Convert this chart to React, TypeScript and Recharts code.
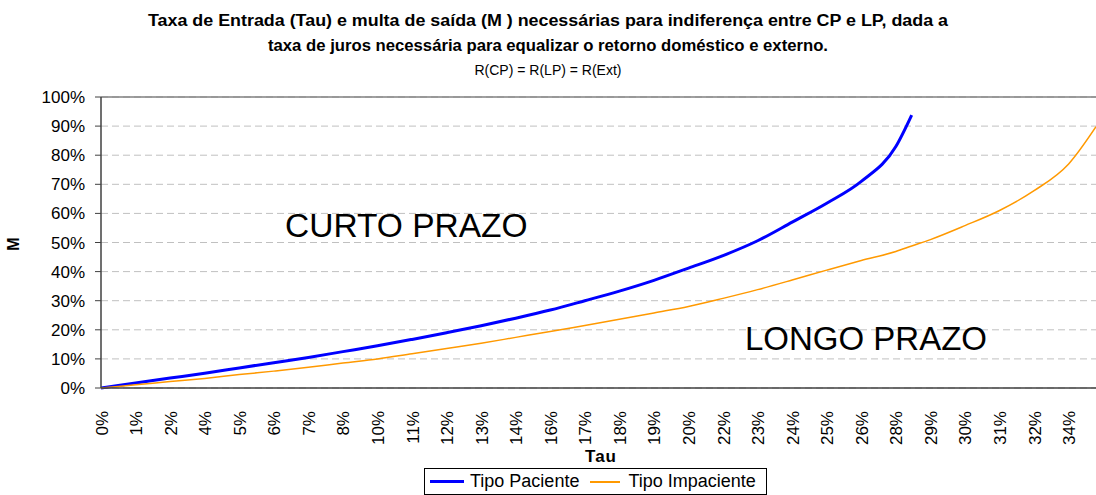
import React from "react";
import {
  LineChart,
  Line,
  XAxis,
  YAxis,
  CartesianGrid,
  ReferenceLine,
} from "recharts";

// Tau (%) on the x axis, M (%) on the y axis
const tau = [
  0, 1.2, 2.4, 3.6, 4.8, 6.0, 7.2, 8.4, 9.6, 10.8, 12.0, 13.2, 14.4, 15.6,
  16.8, 18.0, 19.2, 20.4, 21.6, 22.8, 24.0, 25.2, 26.4, 27.6, 28.15, 28.8,
  30.0, 31.2, 32.4, 33.6, 34.55,
];

const tipoPaciente = [
  0, 1.7, 3.4, 5.1, 6.9, 8.7, 10.5, 12.5, 14.5, 16.7, 19.0, 21.4, 24.0, 26.8,
  30.0, 33.3, 37.0, 41.2, 45.5, 50.6, 57.0, 63.5, 71.0, 83.0, 93.8, null,
  null, null, null, null, null,
];

const tipoImpaciente = [
  0, 1.1, 2.2, 3.3, 4.6, 5.8, 7.1, 8.6, 10.0, 11.8, 13.6, 15.4, 17.4, 19.4,
  21.5, 23.6, 25.8, 28.0, 30.8, 33.8, 37.1, 40.5, 43.8, 46.9, 48.8, 51.0,
  55.8, 61.0, 67.8, 77.0, 89.8,
];

const xTicks = [
  0, 1.2, 2.4, 3.6, 4.8, 6.0, 7.2, 8.4, 9.6, 10.8, 12.0, 13.2, 14.4, 15.6,
  16.8, 18.0, 19.2, 20.4, 21.6, 22.8, 24.0, 25.2, 26.4, 27.6, 28.8, 30.0,
  31.2, 32.4, 33.6,
];
const xTickLabels = [
  "0%", "1%", "2%", "4%", "5%", "6%", "7%", "8%", "10%", "11%", "12%", "13%",
  "14%", "16%", "17%", "18%", "19%", "20%", "22%", "23%", "24%", "25%", "26%",
  "28%", "29%", "30%", "31%", "32%", "34%",
];
const yTicks = [0, 10, 20, 30, 40, 50, 60, 70, 80, 90, 100];

const FONT = "'Liberation Sans', Arial, sans-serif";

const data = tau.map((t, i) => ({
  tau: t,
  paciente: tipoPaciente[i],
  impaciente: tipoImpaciente[i],
}));

const XTick = ({ x, y, index }: any) => (
  <text
    x={x + 1}
    y={y + 15}
    transform={`rotate(-90, ${x + 1}, ${y + 15})`}
    textAnchor="end"
    dominantBaseline="central"
    fontSize={17}
    fontFamily={FONT}
    fill="#000"
  >
    {xTickLabels[index]}
  </text>
);

export default function App() {
  return (
    <div
      style={{
        position: "absolute",
        left: 0,
        top: 0,
        width: 1096,
        height: 495,
        overflow: "hidden",
        background: "#fff",
      }}
    >
      <LineChart
        width={1096}
        height={495}
        data={data}
        margin={{ top: 97, right: 0, left: 0, bottom: 0 }}
      >
        <CartesianGrid
          horizontal
          vertical={false}
          stroke="#c0c0c0"
          strokeDasharray="7 4"
        />
        <XAxis
          dataKey="tau"
          type="number"
          domain={[0, 34.55]}
          ticks={xTicks}
          interval={0}
          tick={<XTick />}
          tickLine={false}
          axisLine={{ stroke: "#404040", strokeWidth: 1.5 }}
          allowDataOverflow
          height={107}
        />
        <YAxis
          type="number"
          domain={[0, 100]}
          ticks={yTicks}
          interval={0}
          width={101}
          tickSize={6}
          tickMargin={10}
          tickFormatter={(v: number) => `${v}%`}
          tick={{ fontSize: 17, fontFamily: FONT, fill: "#000" }}
          tickLine={{ stroke: "#404040" }}
          axisLine={{ stroke: "#404040", strokeWidth: 1.5 }}
        />
        <ReferenceLine y={100} stroke="#808080" strokeWidth={1.5} />
        <Line
          type="monotone"
          dataKey="paciente"
          name="Tipo Paciente"
          stroke="#0000ff"
          strokeWidth={3}
          dot={false}
          isAnimationActive={false}
        />
        <Line
          type="monotone"
          dataKey="impaciente"
          name="Tipo Impaciente"
          stroke="#ff9900"
          strokeWidth={1.5}
          dot={false}
          isAnimationActive={false}
        />
      </LineChart>
      <svg
        width={1096}
        height={495}
        style={{ position: "absolute", left: 0, top: 0, pointerEvents: "none" }}
        fontFamily={FONT}
      >
        <text x={548} y={26} textAnchor="middle" fontSize={16} fontWeight="bold" textLength={800} lengthAdjust="spacingAndGlyphs">
          Taxa de Entrada (Tau) e multa de saída (M ) necessárias para indiferença entre CP e LP, dada a
        </text>
        <text x={548} y={51} textAnchor="middle" fontSize={16} fontWeight="bold" textLength={560} lengthAdjust="spacingAndGlyphs">
          taxa de juros necessária para equalizar o retorno doméstico e externo.
        </text>
        <text x={548} y={75} textAnchor="middle" fontSize={14}>
          R(CP) = R(LP) = R(Ext)
        </text>
        <text
          x={19}
          y={244}
          textAnchor="middle"
          fontSize={16}
          fontWeight="bold"
          transform="rotate(-90, 19, 244)"
        >
          M
        </text>
        <text x={601} y={462} textAnchor="middle" fontSize={17} fontWeight="bold" letterSpacing={1}>
          Tau
        </text>
        <text x={285} y={237} fontSize={33.5}>
          CURTO PRAZO
        </text>
        <text x={745} y={350} fontSize={33}>
          LONGO PRAZO
        </text>
      </svg>
      <div
        style={{
          position: "absolute",
          left: 424,
          top: 468,
          width: 343,
          height: 27,
          border: "1px solid #000",
          background: "#fff",
          display: "flex",
          alignItems: "center",
          fontFamily: FONT,
          fontSize: 18,
          color: "#000",
          boxSizing: "border-box",
          paddingLeft: 5,
          whiteSpace: "nowrap",
        }}
      >
        <span style={{ display: "inline-block", width: 34, height: 3, background: "#0000ff", marginRight: 6 }} />
        <span>Tipo Paciente</span>
        <span style={{ display: "inline-block", width: 30, height: 2, background: "#ff9900", marginLeft: 11, marginRight: 8 }} />
        <span>Tipo Impaciente</span>
      </div>
    </div>
  );
}
